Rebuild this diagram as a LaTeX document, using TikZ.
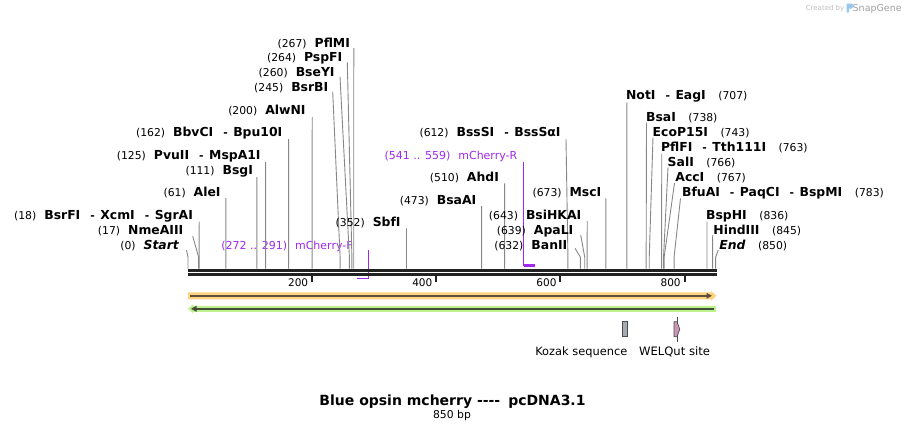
\documentclass[tikz,border=0pt]{standalone}
\usepackage{fontspec}
\setmainfont{DejaVu Sans}
\definecolor{prim}{RGB}{160,40,240}
\definecolor{sitegray}{RGB}{135,135,135}
\definecolor{barblack}{RGB}{34,34,34}
\definecolor{orangeband}{RGB}{255,210,130}
\definecolor{orangeline}{RGB}{92,80,60}
\definecolor{greenband}{RGB}{190,242,140}
\definecolor{greenline}{RGB}{66,76,56}
\definecolor{kozakfill}{RGB}{166,170,178}
\definecolor{welqfill}{RGB}{204,150,182}
\definecolor{wmgray}{RGB}{190,190,190}
\definecolor{wmdark}{RGB}{160,160,160}
\definecolor{logoblue}{RGB}{150,200,240}
\newcommand\numf{\fontsize{10.8}{12}\selectfont}
\newcommand\namef{\bfseries\fontsize{12.4}{14}\selectfont}
\newcommand\primf{\fontsize{11}{13}\selectfont}
\newcommand\axf{\fontsize{10.5}{12}\selectfont}
\newcommand\dsh{\hspace{10pt}{\numf -}\hspace{5.5pt}}
\tikzset{
  lbl/.style={inner sep=0pt, outer sep=0pt, text=black},
  siteline/.style={draw=sitegray, line width=0.9pt},
  primline/.style={draw=prim, line width=1.6pt},
  primtext/.style={inner sep=0pt, outer sep=0pt, text=prim, font=\primf},
}
% left-type label: name, x_end, y_center, number, enzyme, x_top, y_top, bp
\newcommand\LSite[8]{%
  \node[lbl, anchor=base east] (#1) at (#2+0.6,#3+4.5) {{\numf(#4)}\hspace{8pt}{\namef #5}};
  \coordinate (#1t) at (#6,#7);
  \coordinate (#1k) at ({188+0.6208*#8},257);
  \coordinate (#1b) at ({188+0.6208*#8},268.6);
  \draw[siteline] (#1t) -- (#1k) -- (#1b);
}
% right-type label: name, x_start, y_center, enzyme, number, x_top, y_top, bp
\newcommand\RSite[8]{%
  \node[lbl, anchor=base west] (#1) at (#2-0.6,#3+4.5) {{\namef #4}\hspace{12.5pt}{\numf(#5)}};
  \coordinate (#1t) at (#6,#7);
  \coordinate (#1k) at ({188+0.6208*#8},257);
  \coordinate (#1b) at ({188+0.6208*#8},268.6);
  \draw[siteline] (#1t) -- (#1k) -- (#1b);
}
\begin{document}
\begin{tikzpicture}[x=1pt,y=-1pt]
\useasboundingbox (0,0) rectangle (905,432);

% watermark
\node[inner sep=0pt, anchor=base east, text=wmgray, font=\fontsize{7}{8}\selectfont] (wm1) at (844.5,10.5) {Created by};
\fill[logoblue, rounded corners=0.8pt] (846.5,3.5) rectangle (849.2,12.5);
\fill[logoblue, rounded corners=1.5pt] (847.5,3.5) rectangle (853,8.5);
\node[inner sep=0pt, anchor=base west, text=wmdark, font=\fontsize{9.5}{10}\selectfont] (wm2) at (852.5,11) {SnapGene};

% primers (under the bar)
\node[primtext, anchor=base east] (mchf) at (352.7,249) {(272 .. 291)\hspace{8pt}mCherry-F};
\coordinate (mchft) at (368.5,250);
\coordinate (mchfc) at (368.5,278.5);
\coordinate (mchfe) at (356.9,278.5);
\draw[primline] (mchft) -- (mchfc) -- (mchfe);
\node[primtext, anchor=base east] (mchr) at (517.3,159) {(541 .. 559)\hspace{8pt}mCherry-R};
\coordinate (mchrt) at (523.5,161.7);
\coordinate (mchrc) at (523.5,265.5);
\coordinate (mchre) at (535,265.5);
\draw[primline] (mchrt) -- (mchrc);
\draw[draw=prim, line width=2.4pt] (mchrc) -- (mchre);

% left labels
\LSite{pflmi}{349.3}{42.7}{267}{PflMI}{353.8}{48}{267}
\LSite{pspfi}{341.7}{57.3}{264}{PspFI}{347.3}{62.3}{264}
\LSite{bseyi}{334}{71.7}{260}{BseYI}{340}{76.7}{260}
\LSite{bsrbi}{327.7}{87.3}{245}{BsrBI}{332.7}{91.7}{245}
\LSite{alwni}{305}{110}{200}{AlwNI}{312.2}{117}{200}
\LSite{bbvci}{281.7}{132}{162}{BbvCI\dsh Bpu10I}{288.6}{139}{162}
\LSite{pvuii}{260}{155}{125}{PvuII\dsh MspA1I}{265.6}{162}{125}
\LSite{bsgi}{252.3}{170}{111}{BsgI}{256.9}{177}{111}
\LSite{alei}{220}{192.3}{61}{AleI}{225.9}{198}{61}
\LSite{bsrfi}{192.3}{215}{18}{BsrFI\dsh XcmI\dsh SgrAI}{199.2}{221.7}{18}
\LSite{nmeaiii}{182.7}{230}{17}{NmeAIII}{192.7}{236}{17}
\LSite{start}{178.3}{245}{0}{\itshape Start}{186.5}{250}{0}
% middle labels
\LSite{sbfi}{400}{221.7}{352}{SbfI}{406.5}{228.3}{352}
\LSite{bsaai}{475.7}{200}{473}{BsaAI}{481.6}{206}{473}
\LSite{ahdi}{498.3}{177.3}{510}{AhdI}{504.6}{183.3}{510}
\LSite{bsssi}{560}{132.3}{612}{BssSI\dsh BssSαI}{566}{139}{612}
\LSite{msci}{600.7}{191.7}{673}{MscI}{605.8}{198.3}{673}
\LSite{bsihkai}{580.7}{215}{643}{BsiHKAI}{587.2}{221}{643}
\LSite{apali}{572.7}{230}{639}{ApaLI}{580.7}{235}{639}
\LSite{banii}{566.7}{245}{632}{BanII}{575}{248.3}{632}
% right labels
\RSite{noti}{626.7}{95}{NotI\dsh EagI}{707}{626.9}{102.7}{707}
\RSite{bsai}{646.7}{117.3}{BsaI}{738}{646.5}{122.7}{738}
\RSite{ecop}{653.3}{132.3}{EcoP15I}{743}{653}{137.3}{743}
\RSite{pflfi}{661.7}{147.3}{PflFI\dsh Tth111I}{763}{661.7}{154}{763}
\RSite{sali}{668.3}{161.7}{SalI}{766}{668}{167.3}{766}
\RSite{acci}{676}{176.7}{AccI}{767}{674.5}{183}{767}
\RSite{bfuai}{682.7}{191.7}{BfuAI\dsh PaqCI\dsh BspMI}{783}{680.5}{198.3}{783}
\RSite{bsphi}{706.7}{215}{BspHI}{836}{707}{221.7}{836}
\RSite{hindiii}{714}{230}{HindIII}{845}{712.7}{235}{845}
\RSite{end}{720}{245}{\itshape End}{850}{718.3}{250}{850}

% sequence bar
\coordinate (barA) at (188,270.2);
\coordinate (barB) at (716.5,270.2);
\coordinate (barC) at (188,274.6);
\coordinate (barD) at (716.5,274.6);
\draw[barblack, line width=3pt] (barA) -- (barB);
\draw[barblack, line width=2.4pt] (barC) -- (barD);
\foreach \v in {200,400,600,800}{
  \coordinate (tk\v) at ({188+0.6208*\v},275.5);
  \draw[barblack, line width=2pt] (tk\v) -- ++(0,6.5);
  \node[lbl, anchor=base east, font=\axf] (tl\v) at ({188+0.6208*\v-4},286.8) {\v};
}

% full-length features
\fill[orangeband] (188,292.3) -- (711,292.3) -- (711,290.8) -- (716.5,295.8) -- (711,300.8) -- (711,299.3) -- (188,299.3) -- cycle;
\coordinate (orA) at (190,295.8);
\coordinate (orB) at (708,295.8);
\draw[orangeline, line width=2.2pt] (orA) -- (orB);
\fill[orangeline] (706.5,292.8) -- (712,295.8) -- (706.5,298.8) -- cycle;
\fill[greenband] (716,305.8) -- (193,305.8) -- (193,304.3) -- (188,308.8) -- (193,313.3) -- (193,311.8) -- (716,311.8) -- cycle;
\coordinate (grA) at (714,308.8);
\coordinate (grB) at (196,308.8);
\draw[greenline, line width=2.2pt] (grA) -- (grB);
\fill[greenline] (196.5,305.8) -- (191,308.8) -- (196.5,311.8) -- cycle;

% Kozak and WELQut
\draw[fill=kozakfill, draw=black!70, line width=0.7pt] (622.7,321.7) rectangle (627.3,336.7);
\draw[black!70, line width=0.6pt] (676.8,316.5) -- (676.8,342);
\draw[fill=welqfill, draw=black!70, line width=0.7pt] (674,321.7) -- (677,321.7) -- (679.8,329.2) -- (677,336.7) -- (674,336.7) -- cycle;
\node[lbl, anchor=base east, font=\fontsize{11.4}{13}\selectfont] (kozak) at (627.3,355.3) {Kozak sequence};
\node[lbl, anchor=base, font=\fontsize{11.6}{13}\selectfont] (welq) at (674.5,355.3) {WELQut site};

% title
\node[lbl, anchor=base, font=\bfseries\fontsize{14}{16}\selectfont] (title) at (452.5,405) {Blue opsin mcherry -\kern0pt-\kern0pt-\kern0pt-\hspace{8pt}pcDNA3.1};
\node[lbl, anchor=base, font=\fontsize{10.8}{12}\selectfont] (len) at (452,418.5) {850 bp};
\end{tikzpicture}
\end{document}
